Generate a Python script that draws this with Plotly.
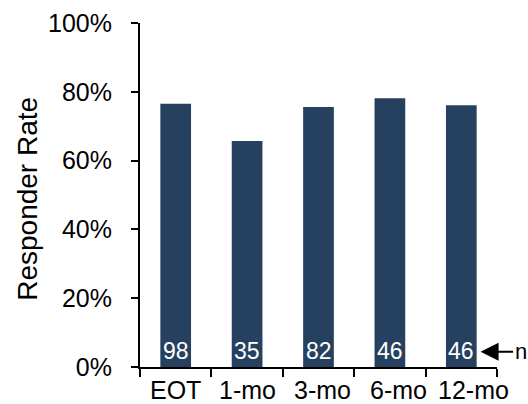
import plotly.graph_objects as go

# Time points and responder rates (%)
timepoints = ["EOT", "1-mo", "3-mo", "6-mo", "12-mo"]
responder_rate = [76.5, 65.7, 75.6, 78.1, 76.1]
# Number of patients at each time point
n_patients = [98, 35, 82, 46, 46]

y_ticks = [0, 20, 40, 60, 80, 100]
y_tick_text = [f"{v}%" for v in y_ticks]

BAR_COLOR = "#26405F"
FONT = "Arial, Liberation Sans, sans-serif"
# horizontal nudge (px) of each category label under its bar
LABEL_NUDGE = [0, 0, 3.5, 9, 12]

fig = go.Figure()
fig.add_trace(go.Bar(
    x=timepoints,
    y=responder_rate,
    width=0.43,
    marker=dict(color=BAR_COLOR, line=dict(width=0)),
    hoverinfo="skip",
))

# patient counts printed at the foot of each bar
for tp, n in zip(timepoints, n_patients):
    fig.add_annotation(
        x=tp, y=0, text=str(n), showarrow=False,
        yanchor="middle", yshift=16,
        font=dict(family=FONT, size=23, color="white"),
    )

# category labels below the axis
for tp, dx in zip(timepoints, LABEL_NUDGE):
    fig.add_annotation(
        x=tp, xref="x", y=0, yref="paper", text=tp, showarrow=False,
        xanchor="center", yanchor="top", xshift=dx, yshift=-8,
        borderpad=0,
        font=dict(family=FONT, size=25, color="black"),
    )

# arrow pointing at the row of counts
fig.add_annotation(
    x=4.27, y=4.4, xref="x", yref="y",
    text="n", showarrow=True,
    arrowhead=2, arrowsize=1.8, arrowwidth=2, arrowcolor="black",
    ax=40, ay=0,
    font=dict(family=FONT, size=22, color="black"),
)

# vertical axis title
fig.add_annotation(
    xref="paper", yref="paper", x=-0.3175, y=0.488,
    text="Responder Rate", textangle=-90, showarrow=False,
    xanchor="center", yanchor="middle",
    font=dict(family=FONT, size=28, color="black"),
)

fig.update_layout(
    width=528, height=404,
    margin=dict(l=139.5, r=31, t=23, b=37, autoexpand=False),
    plot_bgcolor="white", paper_bgcolor="white",
    showlegend=False,
    font=dict(family=FONT, size=26, color="black"),
)

fig.update_xaxes(
    range=[-0.5, 4.5],
    showline=True, linecolor="black", linewidth=2,
    ticks="outside", ticklen=8, tickwidth=2, tickcolor="black",
    tickson="boundaries", showticklabels=False, automargin=False,
    showgrid=False, zeroline=False,
)

fig.update_yaxes(
    range=[0, 100],
    tickvals=y_ticks, ticktext=y_tick_text,
    showline=True, linecolor="black", linewidth=2,
    ticks="outside", ticklen=7, tickwidth=2, tickcolor="black",
    ticklabelstandoff=14, automargin=False,
    showgrid=False, zeroline=False,
    tickfont=dict(family=FONT, size=25, color="black"),
)

fig.write_html("out.html")
